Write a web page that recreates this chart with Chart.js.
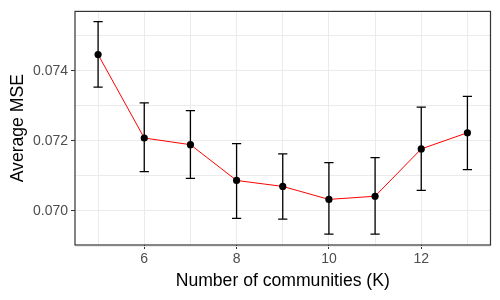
<!DOCTYPE html>
<html>
<head>
<meta charset="utf-8">
<script src="https://cdn.jsdelivr.net/npm/chart.js@4/dist/chart.umd.min.js"></script>
<style>
  html, body { margin: 0; padding: 0; background: #ffffff; }
  #wrap { width: 500px; height: 300px; }
</style>
</head>
<body>
<div id="wrap"><canvas id="mseChart" width="500" height="300"></canvas></div>
<script>
// number of communities and mean MSE with error bar limits
const kValues = [5, 6, 7, 8, 9, 10, 11, 12, 13];
const mseMean = [0.07446, 0.07208, 0.07189, 0.07087, 0.07070, 0.07033, 0.07042, 0.07177, 0.07223];
const mseLower = [0.07353, 0.07112, 0.07093, 0.06979, 0.06977, 0.06934, 0.06934, 0.07059, 0.07118];
const mseUpper = [0.07540, 0.07308, 0.07286, 0.07192, 0.07163, 0.07138, 0.07152, 0.07296, 0.07327];

// grid lines and which of them carry a label
const xTicks = [5, 6, 7, 8, 9, 10, 11, 12, 13];
const xLabelled = [6, 8, 10, 12];
const yTicks = [0.069, 0.070, 0.071, 0.072, 0.073, 0.074, 0.075];
const yLabelled = [0.070, 0.072, 0.074];

const tickFont = { family: 'Liberation Sans, Arial, sans-serif', size: 14 };
const titleFont = { family: 'Liberation Sans, Arial, sans-serif', size: 17.6 };

// error bars, drawn through the chart scales
const errorBars = {
    id: 'errorBars',
    beforeDatasetsDraw(chart) {
        const ctx = chart.ctx;
        const xs = chart.scales.x;
        const ys = chart.scales.y;
        ctx.save();
        ctx.strokeStyle = '#000000';
        ctx.lineWidth = 1.3;
        kValues.forEach((k, i) => {
            const x = xs.getPixelForValue(k);
            const half = (xs.getPixelForValue(k + 0.1) - x);
            const top = ys.getPixelForValue(mseUpper[i]);
            const bot = ys.getPixelForValue(mseLower[i]);
            ctx.beginPath();
            ctx.moveTo(x, top); ctx.lineTo(x, bot);
            ctx.moveTo(x - half, top); ctx.lineTo(x + half, top);
            ctx.moveTo(x - half, bot); ctx.lineTo(x + half, bot);
            ctx.stroke();
        });
        ctx.restore();
    }
};

// panel border like theme_bw
const panelBorder = {
    id: 'panelBorder',
    afterDraw(chart) {
        const a = chart.chartArea;
        const ctx = chart.ctx;
        ctx.save();
        ctx.strokeStyle = '#333333';
        ctx.lineWidth = 1.2;
        ctx.strokeRect(a.left, a.top, a.right - a.left, a.bottom - a.top);
        ctx.restore();
    }
};

function hasLabel(list, v) {
    return list.some(t => Math.abs(t - v) < 1e-9);
}

// tick marks only next to labelled values
const markColor = list => c => (c.tick && hasLabel(list, c.tick.value)) ? '#333333' : 'rgba(0,0,0,0)';

new Chart(document.getElementById('mseChart'), {
    type: 'line',
    data: {
        datasets: [{
            data: kValues.map((k, i) => ({ x: k, y: mseMean[i] })),
            borderColor: '#ff0000',
            borderWidth: 1,
            pointRadius: 3.6,
            pointBackgroundColor: '#000000',
            pointBorderWidth: 0,
            tension: 0
        }]
    },
    options: {
        responsive: false,
        animation: false,
        layout: { padding: { top: 9.5, right: 9.5, left: 0, bottom: 0 } },
        plugins: { legend: { display: false }, tooltip: { enabled: false } },
        scales: {
            x: {
                type: 'linear',
                min: 4.5,
                max: 13.5,
                afterBuildTicks: s => { s.ticks = xTicks.map(v => ({ value: v })); },
                afterFit: s => { s.height = 55; },
                grid: { color: '#ebebeb', lineWidth: 1, tickColor: markColor(xLabelled), tickLength: 4 },
                border: { display: false },
                ticks: {
                    font: tickFont,
                    color: '#4d4d4d',
                    padding: 2,
                    maxRotation: 0,
                    autoSkip: false,
                    callback: v => hasLabel(xLabelled, v) ? String(v) : ''
                },
                title: {
                    display: true,
                    text: 'Number of communities (K)',
                    font: titleFont,
                    color: '#000000',
                    padding: { top: 0, bottom: 8 }
                }
            },
            y: {
                min: 0.06903,
                max: 0.07569,
                afterBuildTicks: s => { s.ticks = yTicks.map(v => ({ value: v })); },
                afterFit: s => { s.width = 75; },
                grid: { color: '#ebebeb', lineWidth: 1, tickColor: markColor(yLabelled), tickLength: 4 },
                border: { display: false },
                ticks: {
                    font: tickFont,
                    color: '#4d4d4d',
                    padding: 3,
                    autoSkip: false,
                    callback: v => hasLabel(yLabelled, v) ? v.toFixed(3) : ''
                },
                title: {
                    display: true,
                    text: 'Average MSE',
                    font: titleFont,
                    color: '#000000',
                    padding: { top: 8, bottom: 0 }
                }
            }
        }
    },
    plugins: [errorBars, panelBorder]
});
</script>
</body>
</html>
